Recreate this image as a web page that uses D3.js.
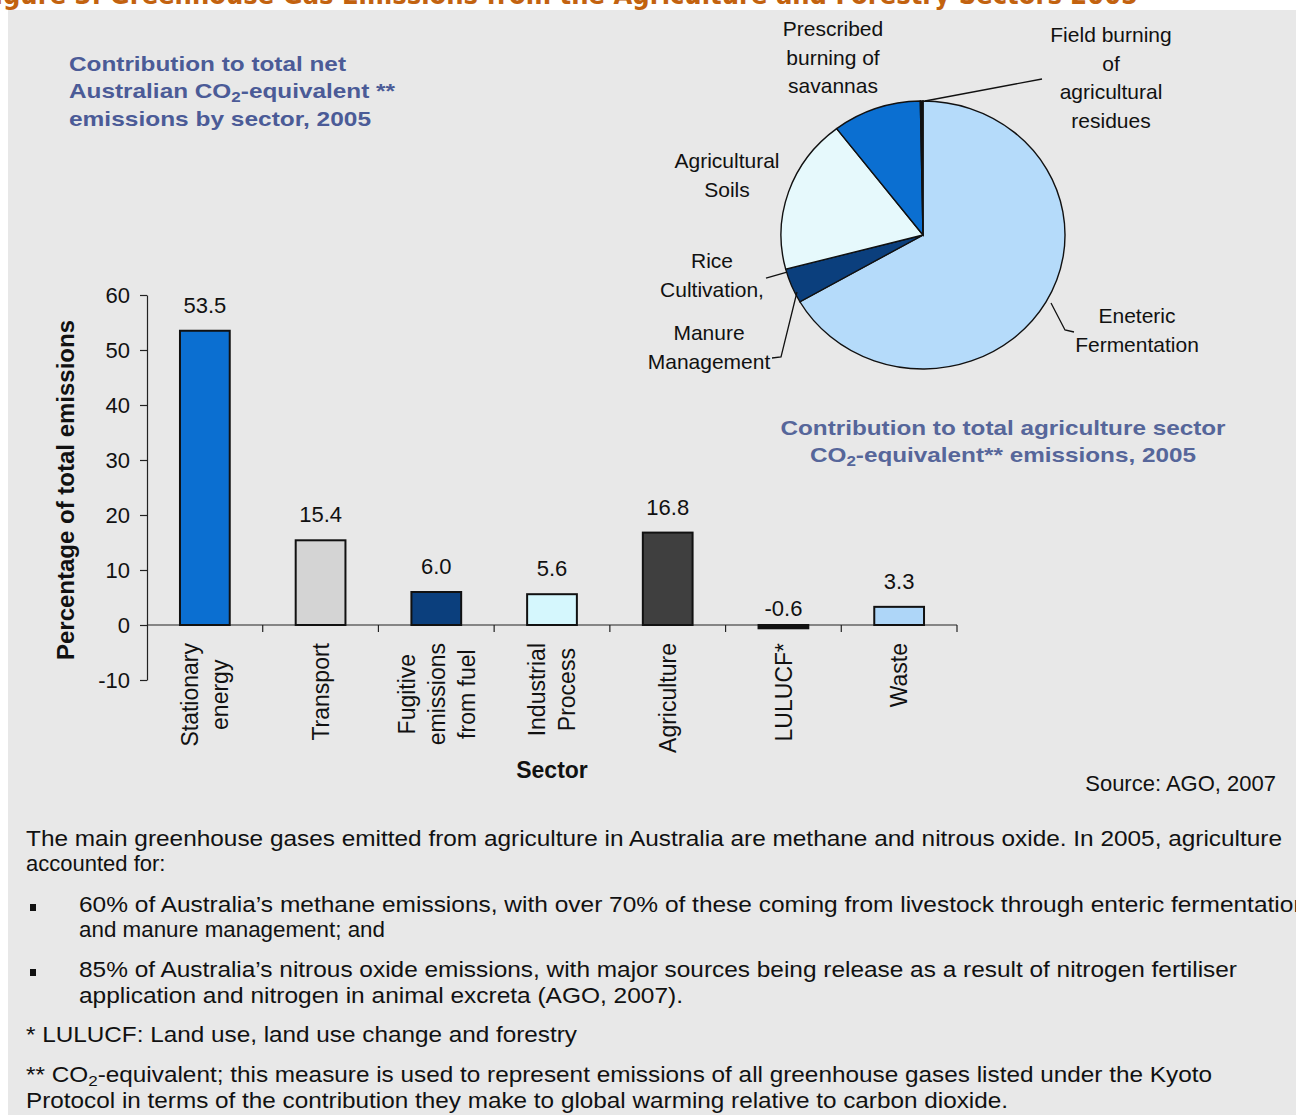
<!DOCTYPE html>
<html lang="en">
<head>
<meta charset="utf-8">
<title>Greenhouse Gas Emissions from the Agriculture and Forestry Sectors 2005</title>
<script src="https://d3js.org/d3.v7.min.js"></script>
<style>
  body { margin: 0; background: #fff; }
  svg { display: block; font-family: "Liberation Sans", Arial, sans-serif; }
  .axis text { font-size: 22px; fill: #111; font-family: "Liberation Sans", Arial, sans-serif; }
  .axis path, .axis line { stroke: #222; stroke-width: 1.2px; }
  .blueTitle { font-weight: bold; font-size: 21px; fill: #4b5b97; }
  .pieLabel { font-size: 21px; fill: #111; }
  .body { font-size: 22px; fill: #111; }
</style>
</head>
<body>
<script>
// bar chart data (percentage of total net CO2-e emissions, 2005)
var sectors = ["Stationary energy", "Transport", "Fugitive emissions from fuel",
               "Industrial Process", "Agriculture", "LULUCF*", "Waste"];
var sectorLines = [["Stationary", "energy"], ["Transport"], ["Fugitive", "emissions", "from fuel"],
                   ["Industrial", "Process"], ["Agriculture"], ["LULUCF*"], ["Waste"]];
var sectorValues = [53.5, 15.4, 6.0, 5.6, 16.8, -0.6, 3.3];
var sectorColors = ["#0b6fd1", "#d4d4d4", "#0b3f7d", "#d5f7fd", "#3f3f3f", "#111111", "#aed6f8"];
var yTicks = [-10, 0, 10, 20, 30, 40, 50, 60];

// pie data (share of agriculture sector, clockwise from 12 o'clock)
var pieNames = ["Enteric Fermentation", "Rice Cultivation, Manure Management",
                "Agricultural Soils", "Prescribed burning of savannas",
                "Field burning of agricultural residues"];
var pieValues = [66.7, 4.2, 18.7, 10.1, 0.3];
var pieColors = ["#b5dbfa", "#0b3f7d", "#e6f9fc", "#0b6fd1", "#111111"];

var w = 1296, h = 1115;

var svg = d3.select("body").append("svg")
    .attr("width", w)
    .attr("height", h);

// page title, clipped at the top of the picture as in the source page
svg.append("text")
    .attr("x", -22).attr("y", 4)
    .attr("textLength", 1160).attr("lengthAdjust", "spacingAndGlyphs")
    .style("font-family", "'DejaVu Sans', sans-serif")
    .style("font-weight", "bold").style("font-size", "26px")
    .style("fill", "#c2620f")
    .text("Figure 3:  Greenhouse Gas Emissions from the Agriculture and Forestry Sectors 2005");

svg.append("rect")
    .attr("x", 8).attr("y", 10)
    .attr("width", w - 8).attr("height", h - 10)
    .attr("fill", "#e8e8e8");

// helper for texts with CO2 subscript
function co2Text(sel, before, after) {
  sel.append("tspan").text(before + "CO");
  sel.append("tspan").attr("baseline-shift", "-25%").style("font-size", "70%").text("2");
  sel.append("tspan").text(after);
}

// ---------- bar chart ----------
var y = d3.scaleLinear().domain([-10, 60]).range([680, 295]);
var x = d3.scaleBand().domain(sectors).range([147, 957]).padding(0);
var barW = x.bandwidth() * 0.43;

svg.append("g")
    .attr("class", "axis")
    .attr("transform", "translate(147,0)")
    .call(d3.axisLeft(y).tickValues(yTicks).tickSize(7).tickSizeOuter(0).tickPadding(10)
          .tickFormat(function(d) { return String(d); }));

// x axis line at zero with ticks between categories
var xAxis = svg.append("g").attr("class", "axis");
xAxis.append("line")
    .attr("x1", 147).attr("x2", 957)
    .attr("y1", y(0)).attr("y2", y(0));
xAxis.selectAll("line.tick")
    .data(sectors)
  .enter().append("line")
    .attr("class", "tick")
    .attr("x1", function(d) { return x(d) + x.bandwidth(); })
    .attr("x2", function(d) { return x(d) + x.bandwidth(); })
    .attr("y1", y(0)).attr("y2", y(0) + 7);

svg.selectAll("rect.bar")
    .data(sectors)
  .enter().append("rect")
    .attr("class", "bar")
    .attr("x", function(d) { return x(d) + (x.bandwidth() - barW) / 2; })
    .attr("y", function(d, i) { return y(Math.max(0, sectorValues[i])); })
    .attr("width", barW)
    .attr("height", function(d, i) { return Math.max(3, Math.abs(y(sectorValues[i]) - y(0))); })
    .attr("fill", function(d, i) { return sectorColors[i]; })
    .attr("stroke", "#111")
    .attr("stroke-width", 2);

svg.selectAll("text.val")
    .data(sectors)
  .enter().append("text")
    .attr("class", "val")
    .attr("x", function(d) { return x(d) + x.bandwidth() / 2; })
    .attr("y", function(d, i) {
      var v = sectorValues[i];
      return v < 0 ? y(0) - 9 : y(v) - 18;
    })
    .attr("text-anchor", "middle")
    .style("font-size", "22px").style("fill", "#111")
    .text(function(d, i) { return sectorValues[i].toFixed(1); });

// rotated category labels
var labelTop = 643, lineH = 30, catFont = 23;
sectors.forEach(function(s, i) {
  var lines = sectorLines[i];
  var g = svg.append("g")
      .attr("transform", "translate(" + (x(s) + x.bandwidth() / 2) + "," + labelTop + ") rotate(-90)");
  var texts = g.selectAll("text")
      .data(lines)
    .enter().append("text")
      .style("font-size", catFont + "px").style("fill", "#111")
      .attr("y", function(d, j) { return (j - (lines.length - 1) / 2) * lineH + catFont * 0.36; })
      .text(function(d) { return d; });
  var maxLen = d3.max(texts.nodes(), function(n) { return n.getComputedTextLength(); });
  texts.attr("x", -maxLen / 2).attr("text-anchor", "middle");
});

svg.append("text")
    .attr("x", 552).attr("y", 778)
    .attr("text-anchor", "middle")
    .style("font-weight", "bold").style("font-size", "23px").style("fill", "#111")
    .text("Sector");

svg.append("text")
    .attr("transform", "translate(74,490) rotate(-90)")
    .attr("text-anchor", "middle")
    .attr("textLength", 340).attr("lengthAdjust", "spacingAndGlyphs")
    .style("font-weight", "bold").style("font-size", "23px").style("fill", "#111")
    .text("Percentage of total emissions");

// bar chart title
var t1 = svg.append("g").attr("class", "blueTitle");
t1.append("text").attr("x", 69).attr("y", 71)
    .attr("textLength", 277).attr("lengthAdjust", "spacingAndGlyphs")
    .text("Contribution to total net");
co2Text(t1.append("text").attr("x", 69).attr("y", 98)
    .attr("textLength", 326).attr("lengthAdjust", "spacingAndGlyphs"), "Australian ", "-equivalent **");
t1.append("text").attr("x", 69).attr("y", 126)
    .attr("textLength", 302).attr("lengthAdjust", "spacingAndGlyphs")
    .text("emissions by sector, 2005");

// ---------- pie chart ----------
var cx = 923, cy = 235, rx = 142, ry = 134;
var pie = d3.pie().sort(null).value(function(d) { return d; });
var arc = d3.arc().innerRadius(0).outerRadius(rx);

var pg = svg.append("g")
    .attr("transform", "translate(" + cx + "," + cy + ") scale(1," + (ry / rx) + ")");
pg.selectAll("path")
    .data(pie(pieValues))
  .enter().append("path")
    .attr("d", arc)
    .attr("fill", function(d, i) { return pieColors[i]; })
    .attr("stroke", "#111")
    .attr("stroke-width", 1.4);

// leader lines
var leaders = [
  [[925, 101], [1042, 79]],
  [[766, 278], [787, 272]],
  [[772, 358], [781, 357], [797, 292]],
  [[1051, 303], [1065, 330], [1074, 332]]
];
svg.selectAll("path.leader")
    .data(leaders)
  .enter().append("path")
    .attr("class", "leader")
    .attr("d", d3.line())
    .attr("fill", "none")
    .attr("stroke", "#111")
    .attr("stroke-width", 1.3);

var pieLabelLines = [
  { x: 833, y: 36, lines: ["Prescribed", "burning of", "savannas"] },
  { x: 1111, y: 42, lines: ["Field burning", "of", "agricultural", "residues"] },
  { x: 727, y: 168, lines: ["Agricultural", "Soils"] },
  { x: 712, y: 268, lines: ["Rice", "Cultivation,"] },
  { x: 709, y: 340, lines: ["Manure", "Management"] },
  { x: 1137, y: 323, lines: ["Eneteric", "Fermentation"] }
];
pieLabelLines.forEach(function(p) {
  svg.append("text")
      .attr("class", "pieLabel")
      .attr("text-anchor", "middle")
    .selectAll("tspan")
      .data(p.lines)
    .enter().append("tspan")
      .attr("x", p.x)
      .attr("y", function(d, j) { return p.y + j * 28.5; })
      .text(function(d) { return d; });
});

var t2 = svg.append("g").attr("class", "blueTitle").style("fill", "#56669a");
t2.append("text").attr("x", 1003).attr("y", 435).attr("text-anchor", "middle")
    .attr("textLength", 445).attr("lengthAdjust", "spacingAndGlyphs")
    .text("Contribution to total agriculture sector");
co2Text(t2.append("text").attr("x", 1003).attr("y", 462).attr("text-anchor", "middle")
    .attr("textLength", 386).attr("lengthAdjust", "spacingAndGlyphs"), "", "-equivalent** emissions, 2005");

svg.append("text")
    .attr("x", 1276).attr("y", 791)
    .attr("text-anchor", "end")
    .style("font-size", "22px").style("fill", "#111")
    .text("Source: AGO, 2007");

// ---------- body text ----------
var bodyLines = [
  { x: 26, y: 846, len: 1256, t: "The main greenhouse gases emitted from agriculture in Australia are methane and nitrous oxide. In 2005, agriculture" },
  { x: 26, y: 871, len: null, t: "accounted for:" },
  { x: 79, y: 912, len: 1228, t: "60% of Australia\u2019s methane emissions, with over 70% of these coming from livestock through enteric fermentation" },
  { x: 79, y: 937, len: 306, t: "and manure management; and" },
  { x: 79, y: 977, len: 1158, t: "85% of Australia\u2019s nitrous oxide emissions, with major sources being release as a result of nitrogen fertiliser" },
  { x: 79, y: 1003, len: 604, t: "application and nitrogen in animal excreta (AGO, 2007)." },
  { x: 26, y: 1042, len: 551, t: "* LULUCF: Land use, land use change and forestry" },
  { x: 26, y: 1108, len: 982, t: "Protocol in terms of the contribution they make to global warming relative to carbon dioxide." }
];
bodyLines.forEach(function(b) {
  var t = svg.append("text").attr("class", "body")
      .attr("x", b.x).attr("y", b.y)
      .text(b.t);
  if (b.len) t.attr("textLength", b.len).attr("lengthAdjust", "spacingAndGlyphs");
});
co2Text(svg.append("text").attr("class", "body").attr("x", 26).attr("y", 1082)
    .attr("textLength", 1186).attr("lengthAdjust", "spacingAndGlyphs"),
    "** ", "-equivalent; this measure is used to represent emissions of all greenhouse gases listed under the Kyoto");

[912, 977].forEach(function(by) {
  svg.append("rect")
      .attr("x", 30).attr("y", by - 8)
      .attr("width", 6).attr("height", 7)
      .attr("fill", "#111");
});
</script>
</body>
</html>
